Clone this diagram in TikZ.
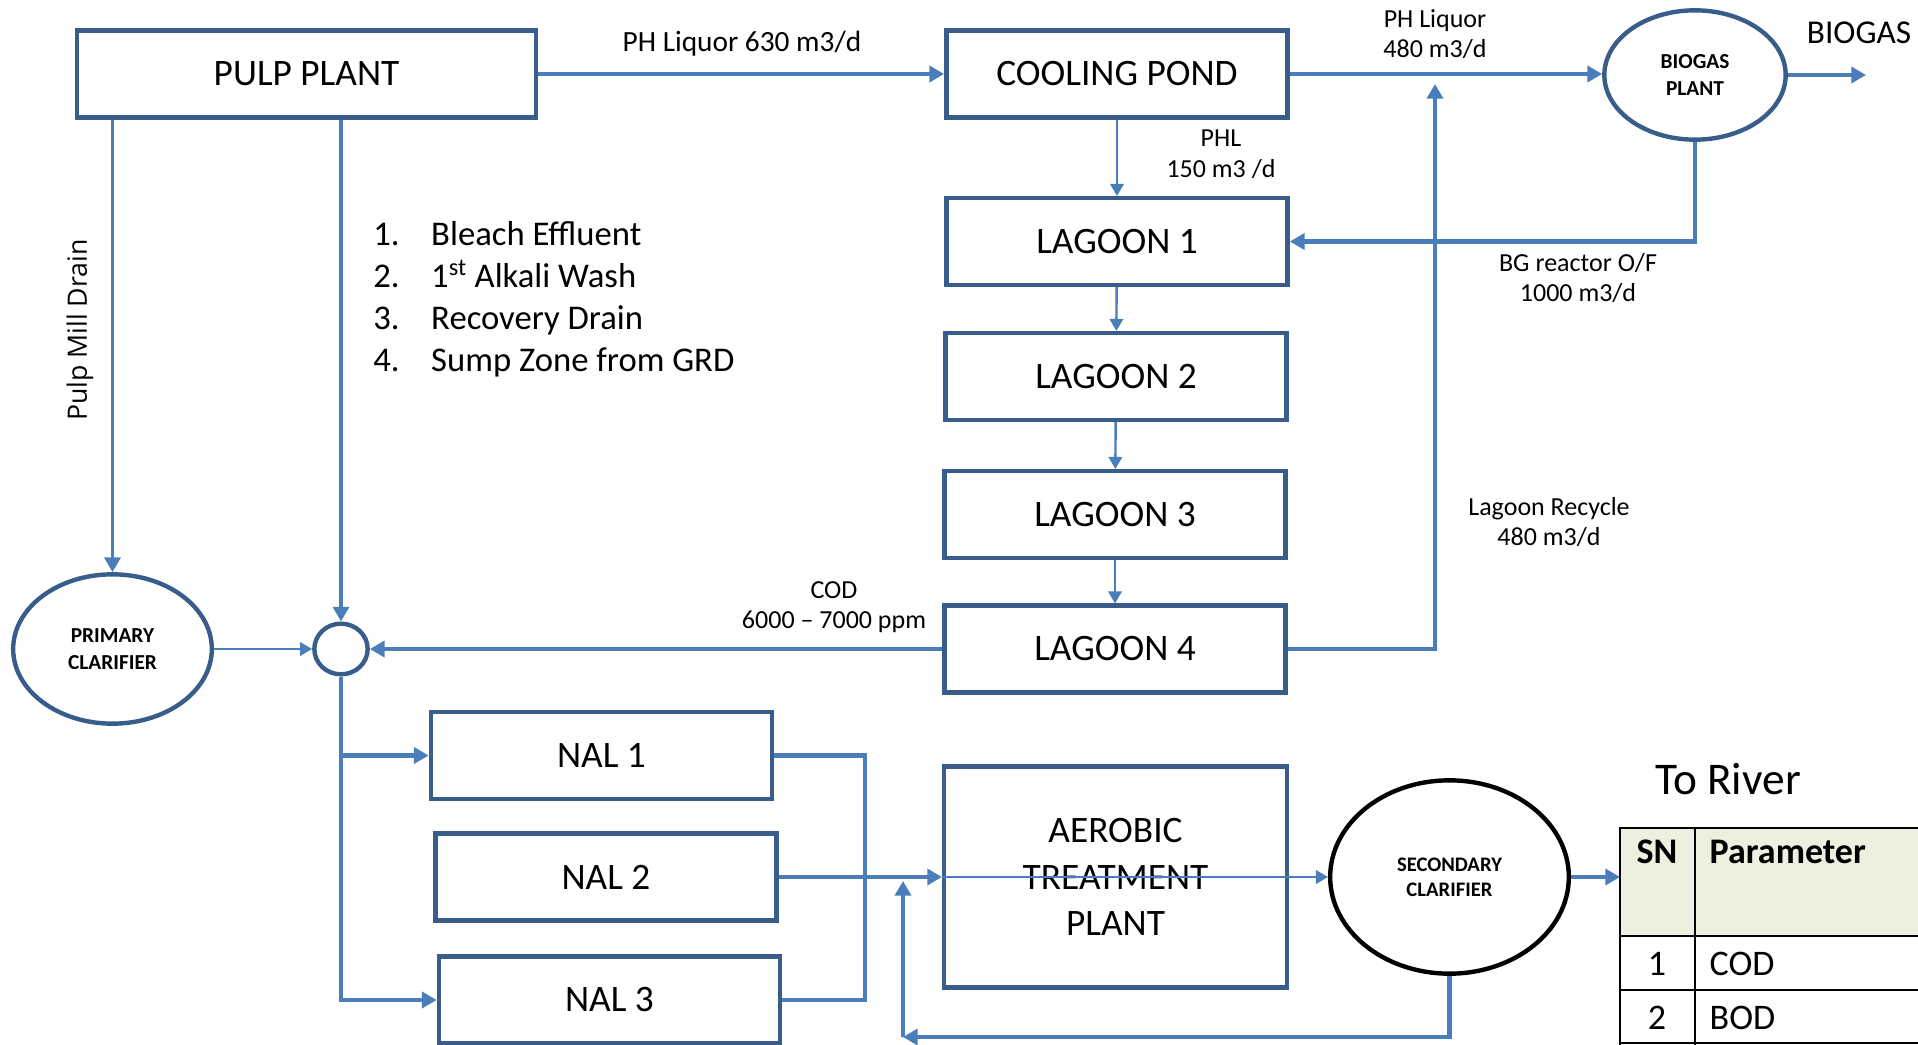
\documentclass[tikz,border=0pt]{standalone}
\usepackage{fontspec}
\setmainfont{Carlito}
\newfontfamily\svislefont{Open Sans}
\usetikzlibrary{positioning,arrows.meta,calc,shapes.geometric}
\definecolor{ramec}{HTML}{385D8A}
\definecolor{tok}{HTML}{4A7EBB}
\definecolor{hlavicka}{HTML}{EBF1DE}
\tikzset{
  blok/.style={draw=ramec,line width=3.3pt,minimum width=256pt,minimum height=65pt,inner sep=2pt,font=\fontsize{28}{35}\selectfont},
  kruh/.style={ellipse,draw=ramec,line width=3.3pt,inner sep=0pt,align=center,font=\bfseries\fontsize{16}{20.5}\selectfont},
  popis/.style={align=center,font=\fontsize{19.5}{23}\selectfont},
  sip/.style={-{Triangle[length=11pt,width=12pt]},line width=3.3pt,draw=tok},
  sipt/.style={-{Triangle[length=9pt,width=10pt]},line width=1.8pt,draw=tok},
  vedeni/.style={line width=3.3pt,draw=tok},
  tab/.style={line width=1.6pt,draw=black},
}
\begin{document}
\begin{tikzpicture}[x=0.75pt,y=-0.75pt]
  \useasboundingbox (0,0) rectangle (1918,1045);
  % bloky
  \node[blok,minimum width=344pt] (pulp) at (306.5,74) {PULP PLANT};
  \node[blok] (cool) at (1117,74) {COOLING POND};
  \node[blok] (lag1) at (1117,241.5) {LAGOON 1};
  \node[blok] (lag2) at (1116,376.5) {LAGOON 2};
  \node[blok] (lag3) at (1115,514.5) {LAGOON 3};
  \node[blok] (lag4) at (1115,649) {LAGOON 4};
  \node[blok] (nal1) at (601.5,755.5) {NAL 1};
  \node[blok] (nal2) at (606,877) {NAL 2};
  \node[blok] (nal3) at (609.5,1000) {NAL 3};
  \node[blok,minimum width=257pt,minimum height=166pt,align=center] (aer) at (1115.5,877) {AEROBIC\\TREATMENT\\PLANT};
  % kruhy
  \node[kruh,minimum width=136pt,minimum height=97pt] (bg) at (1695,75) {BIOGAS\\PLANT};
  \node[kruh,minimum width=149pt,minimum height=112pt] (pc) at (112.5,649) {PRIMARY\\CLARIFIER};
  \node[kruh,minimum width=40pt,minimum height=38pt] (mix) at (341,649) {};
  \node[kruh,draw=black,minimum width=179pt,minimum height=145pt,font=\bfseries\fontsize{15.5}{19}\selectfont] (sc) at (1449.5,877) {SECONDARY\\CLARIFIER};
  % popisky
  \node[popis,font=\fontsize{22}{26}\selectfont] (l630) at (742,44) {PH Liquor 630 m3/d};
  \node[popis] (l480) at (1435,34) {PH Liquor\\480 m3/d};
  \node[popis] (lphl) at (1221,154) {PHL\\150 m3 /d};
  \node[popis] (lbg) at (1578,278) {BG reactor O/F\\1000 m3/d};
  \node[popis] (lrec) at (1549,522) {Lagoon Recycle\\480 m3/d};
  \node[popis] (lcod) at (834,607) {COD\\6000 – 7000 ppm};
  \node[font=\fontsize{25}{30}\selectfont] (biogas) at (1859,33) {BIOGAS};
  \node[font=\fontsize{34}{40}\selectfont] (river) at (1728,779) {To River};
  \node[rotate=90,font=\svislefont\fontsize{20}{24}\selectfont] (drain) at (80,330) {Pulp Mill Drain};
  \node[anchor=west,inner sep=0pt,font=\fontsize{26}{31.5}\selectfont] (seznam) at (373,300)
    {\begin{tabular}{@{}p{43.5pt}@{}l@{}}1. & Bleach Effluent\\ 2. & 1\textsuperscript{st} Alkali Wash\\ 3. & Recovery Drain\\ 4. & Sump Zone from GRD\end{tabular}};
  % tabulka
  \fill[hlavicka] (1620,828) rectangle (1918,936);
  \draw[tab] (1620,1045) -- (1620,828) -- (1918,828);
  \draw[tab] (1695,828) -- (1695,1045);
  \draw[tab] (1620,936) -- (1918,936);
  \draw[tab] (1620,990) -- (1918,990);
  \draw[tab] (1620,1043) -- (1918,1043);
  \node[anchor=base,font=\bfseries\fontsize{27}{32}\selectfont] (sn) at (1657,863) {SN};
  \node[anchor=base west,font=\bfseries\fontsize{27}{32}\selectfont] (par) at (1705,863) {Parameter};
  \node[anchor=base,font=\fontsize{27}{32}\selectfont] (r1) at (1657,975) {1};
  \node[anchor=base west,font=\fontsize{27}{32}\selectfont] (cod) at (1705,975) {COD};
  \node[anchor=base,font=\fontsize{27}{32}\selectfont] (r2) at (1657,1029) {2};
  \node[anchor=base west,font=\fontsize{27}{32}\selectfont] (bod) at (1705,1029) {BOD};
  % volne konce
  \coordinate (ven) at (1866,75);
  \coordinate (recyk) at (1435,84);
  \coordinate (spoj) at (865,877);
  \coordinate (navrat) at (903,1037);
  \coordinate (navrat2) at (903,881);
  \coordinate (tabulka) at (1620,877);
  % toky
  \draw[sip] (pulp.east) -- (cool.west);
  \draw[sip] (cool.east) -- (bg.west |- cool.east);
  \draw[sip] (bg.east) -- (ven);
  \draw[sipt] (cool) -- (lag1);
  \draw[sipt] (lag1) -- (lag2);
  \draw[sipt] (lag2) -- (lag3);
  \draw[sipt] (lag3) -- (lag4);
  \draw[sip] (bg.south) |- (lag1.east);
  \draw[sip] (lag4.east) -| (recyk);
  \draw[sip] (lag4.west) -- (mix.east);
  \draw[sipt] (pc.east) -- (mix.west);
  \draw[sip,line width=2.5pt] (pulp.south -| pc.north) -- (pc.north);
  \draw[sip,line width=2.5pt] (pulp.south -| mix.north) -- (mix.north);
  \draw[sip] (mix.south) |- (nal1.west);
  \draw[sip] (mix.south) |- (nal3.west);
  \draw[vedeni] (nal1.east) -| (spoj) |- (nal3.east);
  \draw[sip] (nal2.east) -- (aer.west);
  \draw[sipt] (aer.west) -- (sc.west);
  \draw[sip] (sc.south) |- (navrat);
  \draw[sip] (navrat) -- (navrat2);
  \draw[sip] (sc.east) -- (tabulka);
\end{tikzpicture}
\end{document}
